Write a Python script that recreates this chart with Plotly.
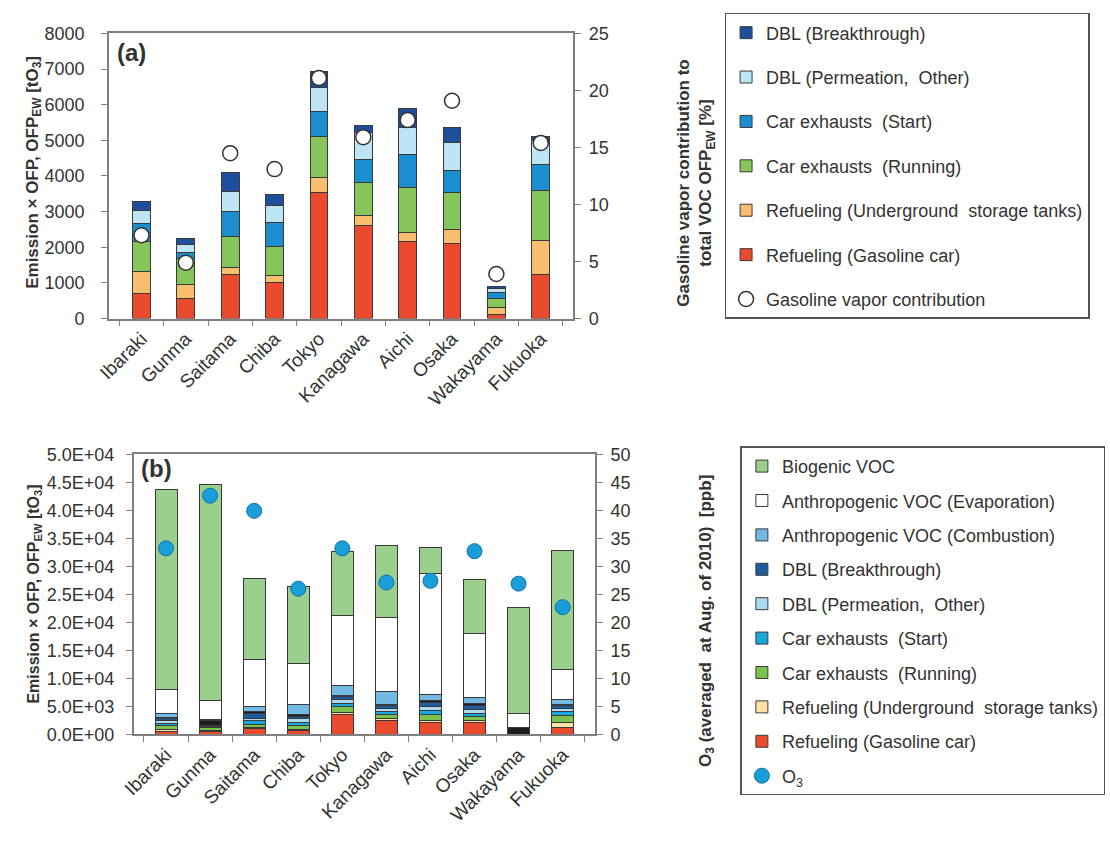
import plotly.graph_objects as go

FONT = "Arial, Liberation Sans, sans-serif"

cities = ["Ibaraki", "Gunma", "Saitama", "Chiba", "Tokyo",
          "Kanagawa", "Aichi", "Osaka", "Wakayama", "Fukuoka"]

# (a) gasoline-vapour OFP_EW by source [tO3]
a_refuel_car = [710, 560, 1240, 1000, 3540, 2600, 2160, 2110, 120, 1240]
a_refuel_ust = [600, 400, 200, 210, 410, 290, 260, 400, 180, 950]
a_exh_running = [840, 710, 870, 810, 1150, 930, 1250, 1030, 260, 1400]
a_exh_start = [530, 180, 690, 670, 700, 640, 940, 620, 170, 730]
a_dbl_perm = [360, 230, 570, 490, 690, 750, 760, 770, 100, 680]
a_dbl_break = [230, 160, 520, 290, 430, 210, 530, 420, 60, 110]
# gasoline vapour contribution to total VOC OFP_EW [%]
a_vapor_share = [7.3, 4.9, 14.5, 13.1, 21.1, 15.9, 17.4, 19.1, 3.9, 15.4]

# (b) OFP by source [tO3]
b_refuel_car = [500, 600, 1000, 700, 3500, 2500, 2100, 2100, 0, 1200]
b_refuel_ust = [300, 150, 200, 250, 400, 300, 300, 300, 0, 900]
b_exh_running = [700, 450, 500, 650, 1000, 700, 1100, 800, 0, 1200]
b_exh_start = [500, 100, 700, 600, 600, 600, 800, 600, 0, 700]
b_dbl_perm = [400, 100, 500, 600, 700, 500, 700, 700, 0, 600]
b_dbl_break = [400, 100, 900, 400, 500, 500, 700, 700, 0, 500]
b_other = [300, 1000, 300, 300, 300, 300, 300, 300, 1200, 300]
b_anth_comb = [600, 200, 800, 1900, 1700, 2300, 1100, 1000, 0, 900]
b_anth_evap = [4300, 3300, 8500, 7200, 12600, 13200, 21600, 11500, 2600, 5200]
b_biogenic = [35700, 38600, 14500, 13800, 11300, 12800, 4700, 9600, 18900, 21300]
# O3 averaged over August 2010 [ppb]
b_o3 = [33.2, 42.6, 39.9, 26.0, 33.2, 27.1, 27.4, 32.7, 26.9, 22.7]

yb_ticks = [0, 5000, 10000, 15000, 20000, 25000, 30000, 35000, 40000, 45000, 50000]
yb_ticktext = ["0.0E+00", "5.0E+03", "1.0E+04", "1.5E+04", "2.0E+04", "2.5E+04",
               "3.0E+04", "3.5E+04", "4.0E+04", "4.5E+04", "5.0E+04"]

EDGE = dict(color="#3a3a3a", width=1)

fig = go.Figure()

# ---- panel (a): stacked bars + vapour share circles
a_series = [
    ("Refueling (Gasoline car)", a_refuel_car, "#EA4B2E", 6),
    ("Refueling (Underground  storage tanks)", a_refuel_ust, "#F9BE6E", 5),
    ("Car exhausts  (Running)", a_exh_running, "#86C55A", 4),
    ("Car exhausts  (Start)", a_exh_start, "#1B8ED0", 3),
    ("DBL (Permeation,  Other)", a_dbl_perm, "#BDE5F5", 2),
    ("DBL (Breakthrough)", a_dbl_break, "#1F4E9C", 1),
]
for name, vals, col, rank in a_series:
    fig.add_trace(go.Bar(
        x=cities, y=vals, name=name, marker=dict(color=col, line=EDGE),
        width=0.4, xaxis="x", yaxis="y", legend="legend",
        legendgroup="a" + str(rank), legendrank=rank))
fig.add_trace(go.Scatter(
    x=cities, y=a_vapor_share, mode="markers", name="Gasoline vapor contribution",
    marker=dict(symbol="circle", size=15, color="white",
                line=dict(color="#333333", width=1.5)),
    xaxis="x", yaxis="y2", legend="legend", legendgroup="a7", legendrank=7))

# ---- panel (b): stacked bars + O3 circles
b_series = [
    ("Refueling (Gasoline car)", b_refuel_car, "#EA4B2E", 9),
    ("Refueling (Underground  storage tanks)", b_refuel_ust, "#FFE2A3", 8),
    ("Car exhausts  (Running)", b_exh_running, "#7CC24E", 7),
    ("Car exhausts  (Start)", b_exh_start, "#17A8DF", 6),
    ("DBL (Permeation,  Other)", b_dbl_perm, "#A9DAF0", 5),
    ("DBL (Breakthrough)", b_dbl_break, "#1F5C9E", 4),
    (None, b_other, "#1e1e1e", 0),
    ("Anthropogenic VOC (Combustion)", b_anth_comb, "#72B9E3", 3),
    ("Anthropogenic VOC (Evaporation)", b_anth_evap, "#FFFFFF", 2),
    ("Biogenic VOC", b_biogenic, "#9BCF8E", 1),
]
for name, vals, col, rank in b_series:
    fig.add_trace(go.Bar(
        x=cities, y=vals, name=name or "", marker=dict(color=col, line=EDGE),
        width=0.5, xaxis="x2", yaxis="y3", legend="legend2",
        showlegend=name is not None,
        legendgroup="b" + str(rank), legendrank=rank if rank else 99))
fig.add_trace(go.Scatter(
    x=cities, y=b_o3, mode="markers", name="O<sub>3</sub>",
    marker=dict(symbol="circle", size=15, color="#1A9ED9",
                line=dict(color="#1570A8", width=1)),
    xaxis="x2", yaxis="y4", legend="legend2", legendgroup="b10", legendrank=10))

W, H = 1110, 843
def px_x(v):
    return v / W
def px_y(v):
    return 1 - v / H

axis_line = dict(showline=True, linecolor="#7f7f7f", linewidth=1.5,
                 ticks="outside", ticklen=6, tickcolor="#7f7f7f",
                 showgrid=False, zeroline=False)
tick_font = dict(family=FONT, size=18, color="#333333")
cat_font = dict(family=FONT, size=19, color="#333333")

fig.update_layout(
    width=W, height=H, margin=dict(l=0, r=0, t=0, b=0),
    paper_bgcolor="white", plot_bgcolor="white",
    barmode="stack",
    font=dict(family=FONT, color="#333333"),
    xaxis=dict(domain=[px_x(97), px_x(567)], anchor="y", mirror=True,
               tickson="boundaries", tickangle=-45, tickfont=cat_font,
               **axis_line),
    yaxis=dict(domain=[px_y(316), px_y(24)], anchor="x", range=[0, 8000],
               tickvals=[0, 1000, 2000, 3000, 4000, 5000, 6000, 7000, 8000],
               tickfont=tick_font, ticklabelstandoff=13, **axis_line),
    yaxis2=dict(overlaying="y", side="right", anchor="x", range=[0, 25],
                tickvals=[0, 5, 10, 15, 20, 25], tickfont=tick_font,
                ticklabelstandoff=4, **axis_line),
    xaxis2=dict(domain=[px_x(122), px_x(589)], anchor="y3", mirror=True,
                tickson="boundaries", tickangle=-45, tickfont=cat_font,
                **axis_line),
    yaxis3=dict(domain=[px_y(742), px_y(455)], anchor="x2", range=[0, 50000],
                tickvals=yb_ticks, ticktext=yb_ticktext, tickfont=tick_font,
                ticklabelstandoff=8, **axis_line),
    yaxis4=dict(overlaying="y3", side="right", anchor="x2", range=[0, 50],
                tickvals=list(range(0, 55, 5)), tickfont=tick_font,
                ticklabelstandoff=4, **axis_line),
    legend=dict(x=px_x(720), y=px_y(3), xanchor="left", yanchor="top",
                bordercolor="#555555", borderwidth=1.5, bgcolor="white",
                font=dict(family=FONT, size=18, color="#333333"),
                traceorder="grouped", tracegroupgap=18, itemwidth=30),
    legend2=dict(x=px_x(736), y=px_y(447), xanchor="left", yanchor="top",
                 bordercolor="#555555", borderwidth=1.5, bgcolor="white",
                 font=dict(family=FONT, size=18, color="#333333"),
                 traceorder="grouped", tracegroupgap=8, itemwidth=30),
)

title_font = dict(family=FONT, size=17, color="#333333")
annotations = [
    dict(text="<b>(a)</b>", x=px_x(103), y=px_y(44), xanchor="left", yanchor="middle",
         font=dict(family=FONT, size=24, color="#333333")),
    dict(text="<b>(b)</b>", x=px_x(127), y=px_y(470), xanchor="left", yanchor="middle",
         font=dict(family=FONT, size=24, color="#333333")),
    dict(text="<b>Emission × OFP, OFP<sub>EW</sub> [tO<sub>3</sub>]</b>",
         x=px_x(21), y=px_y(166), textangle=-90, font=title_font),
    dict(text="<b>Gasoline vapor contribution to<br>total VOC OFP<sub>EW</sub> [%]</b>",
         x=px_x(691), y=px_y(177), textangle=-90, font=title_font),
    dict(text="<b>Emission × OFP, OFP<sub>EW</sub> [tO<sub>3</sub>]</b>",
         x=px_x(22), y=px_y(598), textangle=-90,
         font=dict(family=FONT, size=16, color="#333333")),
    dict(text="<b>O<sub>3</sub> (averaged  at Aug. of 2010)  [ppb]</b>",
         x=px_x(702), y=px_y(626), textangle=-90, font=title_font),
]
for a in annotations:
    a.update(xref="paper", yref="paper", showarrow=False)
    a.setdefault("xanchor", "center")
    a.setdefault("yanchor", "middle")
fig.update_layout(annotations=annotations)

fig.write_html("out.html")
